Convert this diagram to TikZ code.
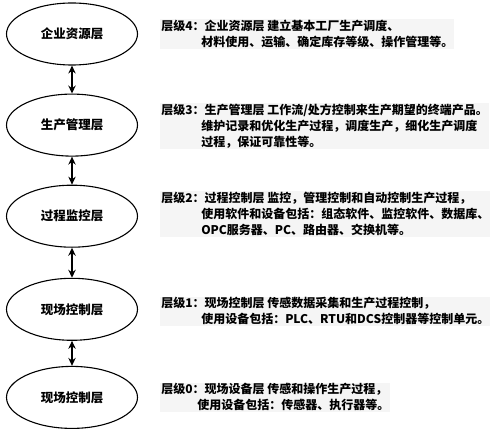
\documentclass[tikz,border=0pt]{standalone}
\usepackage{fontspec}
\newfontfamily\cjk{Noto Sans CJK SC}
\usetikzlibrary{arrows.meta, positioning, shapes.geometric}

\begin{document}
\begin{tikzpicture}[
    x=1pt, y=-1pt,
    node distance=28pt and 22pt,
    layerbox/.style={draw, ellipse, line width=1.1pt, minimum width=131pt, minimum height=62pt, inner sep=0pt, font=\cjk\bfseries\fontsize{12.5}{15}\selectfont},
    descbox/.style={fill=black!4, inner sep=1pt, align=left, font=\cjk\bfseries\fontsize{12}{16}\selectfont},
    arrow/.style={{Stealth[length=2.8mm, width=2.6mm]}-{Stealth[length=2.8mm, width=2.6mm]}, line width=1.6pt}
]
    \useasboundingbox (0,0) rectangle (500,430);

    \node[layerbox] (l4) at (72,34) {企业资源层};
    \node[layerbox, below=of l4] (l3) {生产管理层};
    \node[layerbox, below=of l3] (l2) {过程监控层};
    \node[layerbox, below=of l2, yshift=-2pt] (l1) {现场控制层};
    \node[layerbox, below=of l1, yshift=3pt] (l0) {现场控制层};

    \draw[arrow] (l4) -- (l3);
    \draw[arrow] (l3) -- (l2);
    \draw[arrow] (l2) -- (l1);
    \draw[arrow] (l1) -- (l0);

    \node[descbox, right=of l4, anchor=west] (d4) {层级4：企业资源层 建立基本工厂生产调度、\\\hspace*{40pt}材料使用、运输、确定库存等级、操作管理等。};
    \node[descbox, right=of l3, anchor=west, yshift=-1pt] (d3) {层级3：生产管理层 工作流/处方控制来生产期望的终端产品。\\\hspace*{40pt}维护记录和优化生产过程，调度生产，细化生产调度\\\hspace*{40pt}过程，保证可靠性等。};
    \node[descbox, right=of l2, anchor=west, yshift=2pt] (d2) {层级2：过程控制层 监控，管理控制和自动控制生产过程，\\\hspace*{40pt}使用软件和设备包括：组态软件、监控软件、数据库、\\\hspace*{40pt}OPC服务器、PC、路由器、交换机等。};
    \node[descbox, right=of l1, anchor=west, yshift=-2pt] (d1) {层级1：现场控制层 传感数据采集和生产过程控制，\\\hspace*{40pt}使用设备包括：PLC、RTU和DCS控制器等控制单元。};
    \node[descbox, right=of l0, anchor=west] (d0) {层级0：现场设备层 传感和操作生产过程，\\\hspace*{36pt}使用设备包括：传感器、执行器等。};
\end{tikzpicture}
\end{document}
